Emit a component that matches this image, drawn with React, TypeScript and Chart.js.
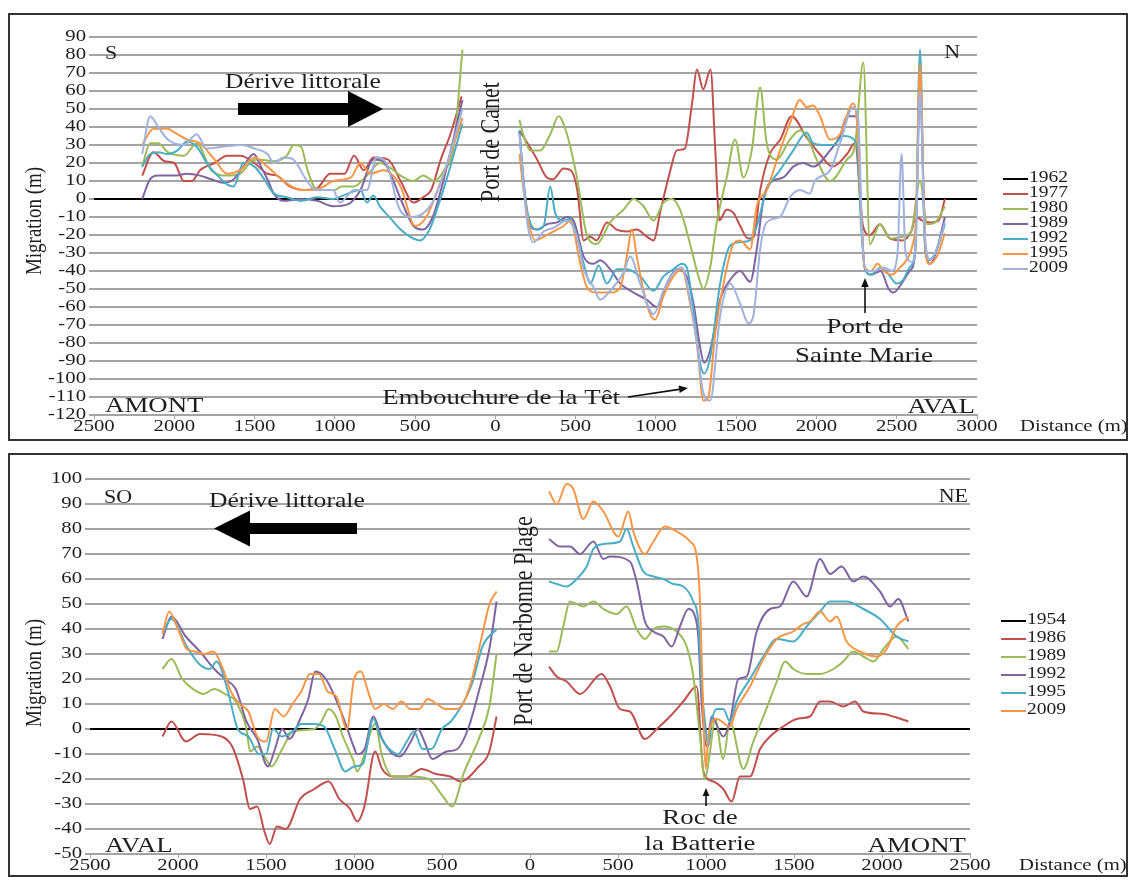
import React, { useEffect, useRef } from "react";
import { Chart, registerables } from "chart.js";
Chart.register(...registerables);

type Pt = [number, number];

// ======================= TOP PANEL (Canet / Sainte-Marie) =======================
const TOP_X_TICKS = [-2500, -2000, -1500, -1000, -500, 0, 500, 1000, 1500, 2000, 2500, 3000];
const TOP_Y_TICKS = [90, 80, 70, 60, 50, 40, 30, 20, 10, 0, -10, -20, -30, -40, -50, -60, -70, -80, -90, -100, -110, -120];
const TOP_YEARS = ["1962", "1977", "1980", "1989", "1992", "1995", "2009"];

// reference year (zero line)
const T1962: Pt[] = [[-2500, 0], [3000, 0]];

// south of Port de Canet (negative = distance towards the south)
const T1977_S: Pt[] = [[-2200,13],[-2130,26],[-2060,21],[-2000,20],[-1940,10],[-1890,10],[-1840,16],[-1750,20],[-1670,24],[-1590,24],[-1500,20],[-1420,14],[-1360,13],[-1280,7],[-1190,5],[-1110,6],[-1030,14],[-940,14],[-880,24],[-820,16],[-760,23],[-670,22],[-590,10],[-510,-2],[-450,1],[-400,5],[-340,22],[-280,36],[-210,57]];
const T1980_S: Pt[] = [[-2200,18],[-2150,31],[-2100,31],[-2040,26],[-1940,24],[-1860,31],[-1770,16],[-1670,13],[-1590,14],[-1520,21],[-1480,22],[-1380,21],[-1300,24],[-1255,30],[-1210,29],[-1170,16],[-1110,5],[-1000,5],[-960,7],[-880,7],[-800,13],[-720,20],[-650,17],[-590,13],[-510,10],[-450,13],[-380,10],[-320,16],[-260,29],[-205,83]];
const T1989_S: Pt[] = [[-2200,0],[-2150,11],[-2100,13],[-2000,13],[-1920,14],[-1840,13],[-1770,11],[-1690,9],[-1630,11],[-1570,18],[-1505,25],[-1460,18],[-1420,11],[-1380,3],[-1320,-1],[-1210,0],[-1110,-1],[-1010,-4],[-920,-3],[-840,5],[-760,22],[-700,21],[-630,9],[-590,0],[-510,-15],[-450,-17],[-390,-10],[-330,8],[-270,30],[-205,55]];
const T1992_S: Pt[] = [[-2200,18],[-2150,25],[-2100,26],[-2040,25],[-1980,27],[-1920,32],[-1860,29],[-1790,19],[-1730,13],[-1670,8],[-1630,7],[-1570,20],[-1500,18],[-1440,11],[-1380,3],[-1300,1],[-1210,-1],[-1110,1],[-1010,0],[-920,3],[-840,5],[-800,-2],[-760,2],[-720,-4],[-650,-11],[-590,-17],[-530,-21],[-470,-23],[-410,-17],[-350,-2],[-290,15],[-205,42]];
const T1995_S: Pt[] = [[-2200,30],[-2130,39],[-2040,39],[-2000,37],[-1920,33],[-1840,31],[-1750,22],[-1670,14],[-1590,16],[-1500,23],[-1420,18],[-1320,10],[-1210,5],[-1090,6],[-1010,10],[-900,12],[-840,20],[-780,14],[-700,16],[-590,7],[-500,-15],[-430,-10],[-360,5],[-290,22],[-205,45]];
const T2009_S: Pt[] = [[-2200,25],[-2150,46],[-2100,40],[-2040,33],[-1940,30],[-1860,36],[-1800,28],[-1700,29],[-1580,30],[-1500,28],[-1420,25],[-1380,20],[-1320,23],[-1260,22],[-1180,11],[-1120,5],[-1010,5],[-970,-2],[-880,5],[-800,5],[-740,23],[-680,20],[-600,-5],[-520,-10],[-450,-8],[-380,0],[-300,20],[-205,50]];

// north of Port de Canet
const T1977_N: Pt[] = [[150,38],[200,31],[260,22],[320,12],[360,11],[425,17],[470,16],[510,5],[550,-23],[590,-21],[630,-23],[695,-13],[755,-17],[820,-18],[880,-17],[945,-21],[985,-23],[1030,-6],[1090,16],[1130,27],[1180,28],[1225,53],[1255,72],[1295,61],[1340,72],[1370,27],[1395,-12],[1440,-6],[1485,-8],[1525,-15],[1575,-22],[1610,-21],[1650,5],[1710,25],[1775,33],[1845,46],[1940,34],[2020,25],[2100,18],[2190,25],[2240,31],[2290,-15],[2333,-20],[2396,-14],[2458,-22],[2537,-23],[2590,-18],[2620,-10],[2660,-12],[2710,-13],[2760,-12],[2800,0]];
const T1980_N: Pt[] = [[150,44],[176,35],[218,27],[280,27],[342,36],[394,46],[446,36],[508,12],[570,-20],[632,-25],[715,-13],[798,-6],[861,0],[923,-4],[985,-12],[1047,-2],[1099,0],[1151,-6],[1213,-25],[1265,-43],[1296,-50],[1338,-38],[1379,-13],[1441,12],[1493,33],[1545,12],[1597,27],[1649,62],[1690,31],[1752,22],[1835,33],[1897,38],[1939,35],[2001,22],[2085,10],[2190,22],[2240,30],[2292,76],[2333,-25],[2396,-14],[2458,-22],[2537,-21],[2590,-18],[2645,10],[2690,-14],[2740,-13],[2800,-4]];
const T1989_N: Pt[] = [[150,38],[176,10],[207,-13],[259,-17],[321,-14],[384,-13],[446,-10],[487,-12],[550,-32],[612,-36],[653,-34],[715,-39],[778,-47],[861,-52],[944,-56],[1006,-60],[1068,-47],[1130,-39],[1192,-43],[1234,-58],[1275,-82],[1300,-91],[1338,-84],[1400,-56],[1462,-45],[1524,-40],[1587,-46],[1628,-28],[1670,0],[1711,9],[1794,12],[1856,18],[1918,20],[1980,18],[2085,27],[2147,35],[2190,46],[2251,46],[2275,0],[2300,-38],[2340,-42],[2400,-40],[2450,-50],[2480,-52],[2530,-47],[2580,-40],[2615,-30],[2645,62],[2680,-30],[2710,-36],[2750,-28],[2800,-10]];
const T1992_N: Pt[] = [[150,38],[176,9],[207,-10],[259,-17],[301,-15],[342,7],[373,-8],[425,-12],[467,-11],[508,-21],[550,-36],[591,-47],[643,-37],[695,-47],[757,-39],[819,-39],[902,-43],[985,-51],[1047,-43],[1109,-39],[1161,-36],[1192,-38],[1234,-62],[1275,-91],[1300,-97],[1338,-88],[1400,-47],[1462,-26],[1524,-24],[1587,-23],[1628,-15],[1690,5],[1773,16],[1856,27],[1939,37],[1980,31],[2040,30],[2105,30],[2168,35],[2251,31],[2275,-10],[2300,-38],[2340,-42],[2400,-38],[2450,-42],[2500,-47],[2540,-45],[2580,-38],[2615,-28],[2645,83],[2675,-25],[2700,-34],[2750,-28],[2800,-14]];
const T1995_N: Pt[] = [[150,25],[176,5],[207,-13],[249,-23],[301,-21],[363,-18],[425,-15],[467,-12],[529,-36],[570,-49],[632,-52],[715,-52],[778,-49],[819,-32],[850,-17],[881,-32],[923,-51],[964,-64],[995,-67],[1047,-54],[1109,-43],[1161,-39],[1213,-58],[1255,-80],[1296,-112],[1327,-110],[1369,-75],[1421,-47],[1483,-25],[1524,-23],[1587,-28],[1628,-4],[1690,5],[1773,27],[1835,42],[1897,55],[1939,51],[1980,52],[2022,46],[2085,33],[2147,36],[2228,53],[2255,40],[2280,-10],[2300,-38],[2340,-40],[2380,-36],[2420,-40],[2470,-42],[2520,-38],[2560,-34],[2600,-25],[2620,-10],[2645,75],[2675,-20],[2700,-36],[2750,-32],[2800,-19]];
const T2009_N: Pt[] = [[150,36],[197,-12],[238,-24],[301,-18],[363,-16],[446,-12],[508,-21],[550,-39],[612,-49],[653,-56],[715,-51],[798,-41],[840,-32],[902,-47],[985,-64],[1047,-51],[1109,-41],[1161,-38],[1213,-56],[1255,-80],[1296,-108],[1338,-112],[1400,-65],[1462,-47],[1524,-58],[1576,-69],[1607,-65],[1649,-28],[1690,-13],[1773,-10],[1835,1],[1897,5],[1959,3],[1990,10],[2085,16],[2147,31],[2228,51],[2260,45],[2285,-20],[2310,-40],[2360,-40],[2420,-38],[2470,-40],[2505,-30],[2530,25],[2555,-30],[2600,-35],[2620,-20],[2645,60],[2675,-20],[2710,-34],[2760,-25],[2800,-13]];

// ======================= BOTTOM PANEL (Narbonne Plage) =======================
const BOT_X_TICKS = [-2500, -2000, -1500, -1000, -500, 0, 500, 1000, 1500, 2000, 2500];
const BOT_Y_TICKS = [100, 90, 80, 70, 60, 50, 40, 30, 20, 10, 0, -10, -20, -30, -40, -50];
const BOT_YEARS = ["1954", "1986", "1989", "1992", "1995", "2009"];

const B1954: Pt[] = [[-2500, 0], [2500, 0]];

const B1986_S: Pt[] = [[-2088,-3],[-2037,3],[-1956,-5],[-1875,-2],[-1753,-3],[-1692,-7],[-1631,-20],[-1591,-32],[-1550,-31],[-1509,-41],[-1479,-46],[-1438,-39],[-1388,-40],[-1306,-28],[-1225,-24],[-1144,-21],[-1083,-28],[-1022,-32],[-982,-37],[-941,-31],[-880,-9],[-840,-16],[-779,-19],[-697,-19],[-616,-16],[-535,-18],[-454,-19],[-393,-21],[-291,-15],[-231,-9],[-190,5]];
const B1989_S: Pt[] = [[-2088,24],[-2037,28],[-1976,20],[-1915,16],[-1855,14],[-1794,16],[-1733,14],[-1672,11],[-1611,0],[-1591,-9],[-1550,-7],[-1500,-12],[-1469,-15],[-1408,-8],[-1347,-1],[-1225,0],[-1185,3],[-1144,8],[-1103,5],[-1063,-3],[-1002,-13],[-982,-17],[-940,-10],[-900,0],[-880,2],[-840,-11],[-779,-19],[-677,-19],[-576,-20],[-494,-27],[-444,-31],[-373,-17],[-291,-4],[-231,9],[-190,30]];
const B1992_S: Pt[] = [[-2088,36],[-2037,45],[-1956,37],[-1875,31],[-1794,24],[-1733,20],[-1672,16],[-1611,3],[-1550,-4],[-1489,-15],[-1449,-8],[-1408,0],[-1367,-4],[-1306,4],[-1260,12],[-1220,23],[-1160,20],[-1063,5],[-1002,-7],[-982,-10],[-940,-8],[-890,5],[-840,-4],[-779,-10],[-738,-11],[-677,-5],[-637,0],[-600,-5],[-555,-12],[-474,-9],[-413,-8],[-352,0],[-291,15],[-231,32],[-190,51]];
const B1995_S: Pt[] = [[-2088,38],[-2037,44],[-1950,33],[-1880,26],[-1820,24],[-1780,27],[-1720,16],[-1660,0],[-1600,-3],[-1540,-10],[-1500,-10],[-1460,0],[-1410,-3],[-1350,-1],[-1300,2],[-1230,2],[-1170,1],[-1110,-8],[-1050,-17],[-1000,-15],[-950,-14],[-890,4],[-850,-3],[-800,-8],[-750,-10],[-700,-5],[-660,-1],[-610,-8],[-560,-8],[-500,0],[-450,3],[-400,8],[-330,18],[-270,33],[-190,40]];
const B2009_S: Pt[] = [[-2088,38],[-2050,47],[-2000,40],[-1950,32],[-1900,31],[-1850,30],[-1800,31],[-1750,25],[-1700,15],[-1650,10],[-1600,7],[-1550,-3],[-1500,-5],[-1450,8],[-1400,5],[-1350,10],[-1300,15],[-1250,22],[-1200,22],[-1150,15],[-1100,13],[-1040,0],[-1000,20],[-960,23],[-920,15],[-880,8],[-830,10],[-780,8],[-730,11],[-680,8],[-630,8],[-580,12],[-530,10],[-480,8],[-430,8],[-380,10],[-330,20],[-280,35],[-230,50],[-190,55]];

const B1986_N: Pt[] = [[108,25],[152,21],[208,19],[284,14],[407,22],[455,17],[511,8],[568,7],[653,-4],[720,0],[795,5],[871,11],[947,17],[985,-17],[1042,-21],[1098,-24],[1146,-29],[1193,-19],[1250,-19],[1307,-8],[1364,-3],[1439,1],[1515,4],[1591,5],[1648,11],[1705,11],[1780,9],[1847,11],[1894,7],[2008,6],[2064,5],[2150,3]];
const B1989_N: Pt[] = [[108,31],[152,31],[189,41],[227,51],[303,49],[360,51],[417,48],[492,46],[549,49],[606,40],[653,36],[701,40],[758,41],[833,39],[890,33],[928,21],[966,-3],[994,-20],[1023,-9],[1051,4],[1098,-12],[1136,3],[1212,-16],[1269,-5],[1326,5],[1402,19],[1449,27],[1496,24],[1572,22],[1648,22],[1724,24],[1780,27],[1837,31],[1894,29],[1951,27],[2008,32],[2083,37],[2150,32]];
const B1992_N: Pt[] = [[108,76],[170,73],[227,73],[284,70],[360,75],[417,68],[455,69],[568,67],[606,59],[653,43],[701,39],[758,37],[805,33],[852,41],[900,48],[938,45],[956,37],[975,11],[1004,-7],[1032,5],[1098,-3],[1136,3],[1184,20],[1231,21],[1288,39],[1364,48],[1420,49],[1496,59],[1572,53],[1648,68],[1705,62],[1771,65],[1837,59],[1894,61],[1989,55],[2046,49],[2093,52],[2150,43]];
const B1995_N: Pt[] = [[108,59],[152,58],[208,57],[265,60],[322,65],[360,72],[417,74],[511,75],[549,80],[587,73],[644,63],[701,61],[758,60],[814,58],[871,57],[928,51],[956,43],[975,17],[994,3],[1013,-7],[1032,3],[1061,8],[1098,8],[1136,3],[1174,11],[1250,20],[1326,29],[1402,36],[1496,35],[1572,41],[1648,47],[1705,51],[1799,51],[1894,48],[1989,44],[2083,37],[2150,35]];
const B2009_N: Pt[] = [[108,95],[152,90],[208,98],[246,96],[303,84],[360,91],[417,87],[502,77],[559,87],[587,79],[653,70],[701,75],[767,81],[833,79],[909,75],[947,69],[966,51],[985,5],[998,-16],[1015,-2],[1061,4],[1136,1],[1174,8],[1250,17],[1326,28],[1402,36],[1496,39],[1553,42],[1591,43],[1648,47],[1705,43],[1742,45],[1799,35],[1875,31],[1970,29],[2027,32],[2083,41],[2150,45]];

// ======================= styling =======================
const C_BLACK = "#000000";
const C_RED = "#C0504D";
const C_GREEN = "#9BBB59";
const C_PURPLE = "#8064A2";
const C_CYAN = "#4BACC6";
const C_ORANGE = "#F79646";
const C_LAV = "#A0B2DD";
const GRID = "#a4a4a4";
const INK = "#1e1e1e";
const SX = 1.22;
const FONT = '"Liberation Serif", "Times New Roman", serif';

function toData(parts: Pt[][]) {
  const out: { x: number; y: number | null }[] = [];
  parts.forEach((p, i) => {
    if (i > 0) {
      const prev = parts[i - 1];
      out.push({ x: (prev[prev.length - 1][0] + p[0][0]) / 2, y: null });
    }
    p.forEach(([x, y]) => out.push({ x, y }));
  });
  return out;
}

function text(ctx: CanvasRenderingContext2D, s: string, x: number, y: number, size: number,
  align: CanvasTextAlign = "left", baseline: CanvasTextBaseline = "alphabetic", vertical = false) {
  ctx.save();
  ctx.translate(x, y);
  if (vertical) { ctx.rotate(-Math.PI / 2); ctx.scale(1, SX); } else ctx.scale(SX, 1);
  ctx.font = `${size}px ${FONT}`;
  ctx.fillStyle = INK;
  ctx.textAlign = align;
  ctx.textBaseline = baseline;
  ctx.fillText(s, 0, 0);
  ctx.restore();
}

function thinArrow(ctx: CanvasRenderingContext2D, x1: number, y1: number, x2: number, y2: number, head = 8) {
  ctx.save();
  ctx.strokeStyle = "#111"; ctx.fillStyle = "#111"; ctx.lineWidth = 1.6;
  const a = Math.atan2(y2 - y1, x2 - x1);
  const bx = x2 - head * Math.cos(a), by = y2 - head * Math.sin(a);
  ctx.beginPath(); ctx.moveTo(x1, y1); ctx.lineTo(bx, by); ctx.stroke();
  const w = head * 0.42;
  ctx.beginPath();
  ctx.moveTo(x2, y2);
  ctx.lineTo(bx + w * Math.sin(a), by - w * Math.cos(a));
  ctx.lineTo(bx - w * Math.sin(a), by + w * Math.cos(a));
  ctx.closePath(); ctx.fill();
  ctx.restore();
}

function blockArrow(ctx: CanvasRenderingContext2D, xTail: number, xBase: number, xTip: number, yc: number, shaft: number, headH: number) {
  ctx.save();
  ctx.fillStyle = "#000";
  ctx.beginPath();
  ctx.moveTo(xTail, yc - shaft / 2);
  ctx.lineTo(xBase, yc - shaft / 2);
  ctx.lineTo(xBase, yc - headH / 2);
  ctx.lineTo(xTip, yc);
  ctx.lineTo(xBase, yc + headH / 2);
  ctx.lineTo(xBase, yc + shaft / 2);
  ctx.lineTo(xTail, yc + shaft / 2);
  ctx.closePath(); ctx.fill();
  ctx.restore();
}

function drawLegend(ctx: CanvasRenderingContext2D, labels: string[], colors: string[], x: number, y0: number, dy: number) {
  labels.forEach((lab, i) => {
    const y = y0 + i * dy;
    ctx.save();
    ctx.strokeStyle = colors[i]; ctx.lineWidth = 2;
    ctx.beginPath(); ctx.moveTo(x, y + 1); ctx.lineTo(x + 25, y + 1); ctx.stroke();
    ctx.restore();
    text(ctx, lab, x + 26, y, 16, "left", "middle");
  });
}

function drawTicks(chart: any, xt: number[], yt: number[]) {
  const ctx = chart.ctx as CanvasRenderingContext2D;
  const a = chart.chartArea;
  const xs = chart.scales.x, ys = chart.scales.y;
  yt.forEach((v) => text(ctx, String(v), a.left - 8, ys.getPixelForValue(v), 17, "right", "middle"));
  xt.forEach((v) => text(ctx, String(Math.abs(v)), xs.getPixelForValue(v), a.bottom + 12, 17, "center", "middle"));
}

type PanelCfg = {
  frame: { left: number; top: number; w: number; h: number };
  padding: { top: number; left: number; right: number; bottom: number };
  xHeight: number;
  xTicks: number[];
  yTicks: number[];
  datasets: { label: string; color: string; parts: Pt[][] }[];
  draw: (chart: any) => void;
};

const TOP_COLORS = [C_BLACK, C_RED, C_GREEN, C_PURPLE, C_CYAN, C_ORANGE, C_LAV];
const BOT_COLORS = [C_BLACK, C_RED, C_GREEN, C_PURPLE, C_CYAN, C_ORANGE];

const TOP_CFG: PanelCfg = {
  frame: { left: 8, top: 13, w: 1120, h: 428 },
  padding: { top: 22, left: 24, right: 149, bottom: 2 },
  xHeight: 22,
  xTicks: TOP_X_TICKS,
  yTicks: TOP_Y_TICKS,
  datasets: [
    { label: TOP_YEARS[0], color: TOP_COLORS[0], parts: [T1962] },
    { label: TOP_YEARS[1], color: TOP_COLORS[1], parts: [T1977_S, T1977_N] },
    { label: TOP_YEARS[2], color: TOP_COLORS[2], parts: [T1980_S, T1980_N] },
    { label: TOP_YEARS[3], color: TOP_COLORS[3], parts: [T1989_S, T1989_N] },
    { label: TOP_YEARS[4], color: TOP_COLORS[4], parts: [T1992_S, T1992_N] },
    { label: TOP_YEARS[5], color: TOP_COLORS[5], parts: [T1995_S, T1995_N] },
    { label: TOP_YEARS[6], color: TOP_COLORS[6], parts: [T2009_S, T2009_N] },
  ],
  draw: (chart) => {
    const ctx = chart.ctx as CanvasRenderingContext2D;
    drawTicks(chart, TOP_X_TICKS, TOP_Y_TICKS);
    text(ctx, "Migration (m)", 31, 206, 19, "center", "alphabetic", true);
    text(ctx, "Distance (m)", 1010, 412, 17, "left", "middle");
    text(ctx, "S", 95, 44, 18);
    text(ctx, "N", 950, 43, 18, "right");
    text(ctx, "Dérive littorale", 215, 73, 21);
    blockArrow(ctx, 228, 338, 373, 94, 12, 36);
    text(ctx, "Port de Canet", 489, 127, 22, "center", "alphabetic", true);
    text(ctx, "AMONT", 95, 397, 22);
    text(ctx, "AVAL", 965, 398, 22, "right");
    text(ctx, "Embouchure de la Têt", 610, 389, 22, "right");
    thinArrow(ctx, 618, 382, 678, 373, 9);
    text(ctx, "Port de", 855, 318, 22, "center");
    text(ctx, "Sainte Marie", 854, 347, 22, "center");
    thinArrow(ctx, 855, 298, 855, 263, 9);
    drawLegend(ctx, TOP_YEARS, TOP_COLORS, 993, 163, 15);
  },
};

const BOT_CFG: PanelCfg = {
  frame: { left: 8, top: 453, w: 1120, h: 424 },
  padding: { top: 24, left: 20, right: 156, bottom: 1 },
  xHeight: 20,
  xTicks: BOT_X_TICKS,
  yTicks: BOT_Y_TICKS,
  datasets: [
    { label: BOT_YEARS[0], color: BOT_COLORS[0], parts: [B1954] },
    { label: BOT_YEARS[1], color: BOT_COLORS[1], parts: [B1986_S, B1986_N] },
    { label: BOT_YEARS[2], color: BOT_COLORS[2], parts: [B1989_S, B1989_N] },
    { label: BOT_YEARS[3], color: BOT_COLORS[3], parts: [B1992_S, B1992_N] },
    { label: BOT_YEARS[4], color: BOT_COLORS[4], parts: [B1995_S, B1995_N] },
    { label: BOT_YEARS[5], color: BOT_COLORS[5], parts: [B2009_S, B2009_N] },
  ],
  draw: (chart) => {
    const ctx = chart.ctx as CanvasRenderingContext2D;
    drawTicks(chart, BOT_X_TICKS, BOT_Y_TICKS);
    text(ctx, "Migration (m)", 31, 218, 19, "center", "alphabetic", true);
    text(ctx, "Distance (m)", 1009, 411, 17, "left", "middle");
    text(ctx, "SO", 94, 48, 18);
    text(ctx, "NE", 958, 47, 18, "right");
    text(ctx, "Dérive littorale", 199, 52, 21);
    blockArrow(ctx, 347, 240, 204, 73.5, 11, 36);
    text(ctx, "Port de Narbonne Plage", 522, 166, 22, "center", "alphabetic", true);
    text(ctx, "AVAL", 95, 397, 22);
    text(ctx, "AMONT", 956, 397, 22, "right");
    text(ctx, "Roc de", 690, 369, 22, "center");
    text(ctx, "la Batterie", 690, 395, 22, "center");
    thinArrow(ctx, 696, 351, 696, 333, 8);
    drawLegend(ctx, BOT_YEARS, BOT_COLORS, 991, 165, 18);
  },
};

function Panel({ cfg }: { cfg: PanelCfg }) {
  const ref = useRef<HTMLCanvasElement>(null);
  const cw = cfg.frame.w - 4;
  const ch = cfg.frame.h - 4;
  useEffect(() => {
    const n = cfg.datasets.length;
    const chart = new Chart(ref.current as HTMLCanvasElement, {
      type: "line",
      data: {
        datasets: cfg.datasets.map((d, i) => ({
          label: d.label,
          data: toData(d.parts) as any,
          borderColor: d.color,
          backgroundColor: d.color,
          borderWidth: 2,
          pointRadius: 0,
          fill: false,
          spanGaps: false,
          cubicInterpolationMode: "monotone" as const,
          order: n - i,
        })),
      },
      options: {
        responsive: false,
        animation: false,
        devicePixelRatio: 1,
        events: [],
        parsing: { xAxisKey: "x", yAxisKey: "y" },
        layout: { padding: cfg.padding },
        plugins: { legend: { display: false }, tooltip: { enabled: false } },
        scales: {
          x: {
            type: "linear",
            min: cfg.xTicks[0],
            max: cfg.xTicks[cfg.xTicks.length - 1],
            ticks: { stepSize: 500, display: false },
            grid: { display: true, drawOnChartArea: false, drawTicks: true, tickLength: 4, color: GRID, lineWidth: 1 },
            border: { display: true, color: GRID, width: 2 },
            afterFit: (s: any) => { s.height = cfg.xHeight; },
          },
          y: {
            type: "linear",
            min: cfg.yTicks[cfg.yTicks.length - 1],
            max: cfg.yTicks[0],
            ticks: { stepSize: 10, display: false },
            grid: { color: GRID, lineWidth: 2, tickLength: 5, drawTicks: true },
            border: { display: false },
            afterFit: (s: any) => { s.width = 60; },
          },
        },
      },
      plugins: [{ id: "annot", afterDraw: (c: any) => cfg.draw(c) }],
    });
    return () => chart.destroy();
  }, []);
  return (
    <div
      style={{
        position: "absolute",
        left: cfg.frame.left,
        top: cfg.frame.top,
        width: cfg.frame.w,
        height: cfg.frame.h,
        border: "2px solid #333",
        boxSizing: "border-box",
        background: "#fff",
      }}
    >
      <canvas ref={ref} width={cw} height={ch} style={{ display: "block", width: cw, height: ch }} />
    </div>
  );
}

export default function App() {
  return (
    <div style={{ position: "fixed", left: 0, top: 0, width: 1131, height: 880, background: "#fff", overflow: "hidden" }}>
      <Panel cfg={TOP_CFG} />
      <Panel cfg={BOT_CFG} />
    </div>
  );
}
